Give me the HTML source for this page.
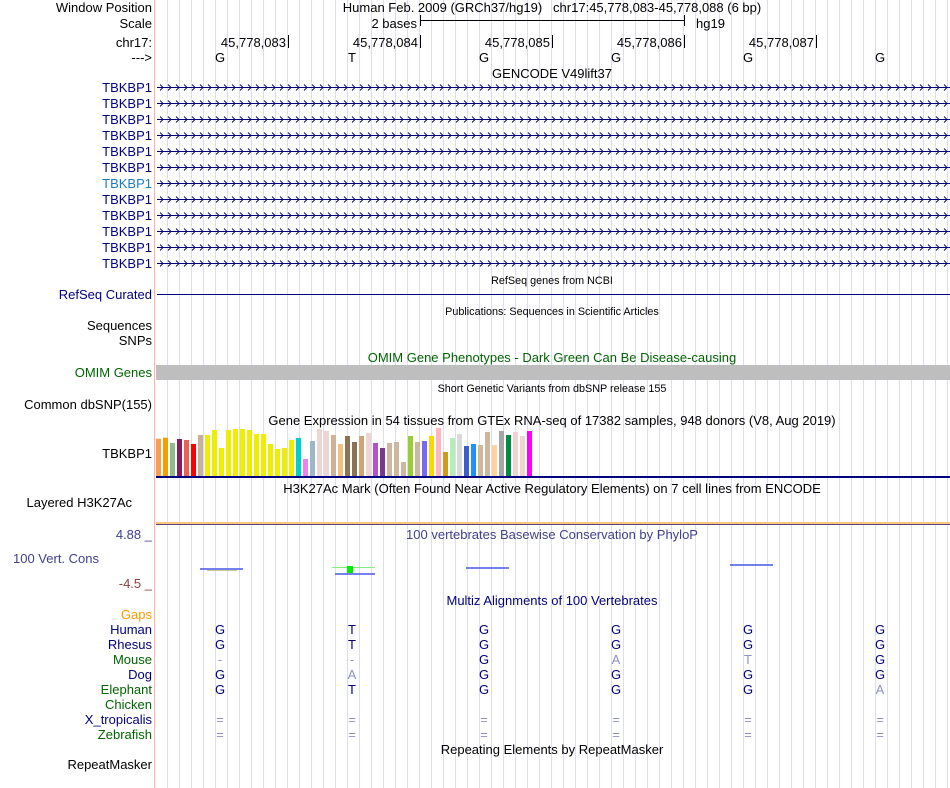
<!DOCTYPE html>
<html><head><meta charset="utf-8"><style>
html,body{margin:0;padding:0;background:#fff;}
svg{display:block;font-family:"Liberation Sans",sans-serif;}
.l{font-size:13px;text-anchor:end;}
.c{font-size:13px;text-anchor:middle;}
.s{font-size:10.8px;text-anchor:middle;}
.nv{fill:#000080;}
.gr{fill:#006400;}
.b{font-size:13px;text-anchor:middle;}
</style></head><body>
<svg width="950" height="788" viewBox="0 0 950 788">
<defs>
<pattern id="grid" patternUnits="userSpaceOnUse" x="155" y="0" width="12" height="788">
<rect x="0" y="0" width="1" height="788" fill="#dcdcf2"/>
</pattern>
</defs>
<rect x="0" y="0" width="950" height="788" fill="#fff"/>
<rect x="156" y="0" width="794" height="788" fill="url(#grid)"/>
<rect x="154" y="0" width="1" height="788" fill="#ffb0b0"/>

<!-- header -->
<text class="l" x="152" y="12">Window Position</text>
<text class="l" x="152" y="28">Scale</text>
<text class="l" x="152" y="47">chr17:</text>
<text class="l" x="152" y="62">---&gt;</text>
<text class="b" x="552" y="12">Human Feb. 2009 (GRCh37/hg19)&#160;&#160;&#160;chr17:45,778,083-45,778,088 (6 bp)</text>
<text class="l" x="417" y="28">2 bases</text>
<rect x="420" y="15" width="1" height="11" fill="#000"/>
<rect x="420" y="20" width="264" height="1" fill="#000"/>
<rect x="684" y="15" width="1" height="11" fill="#000"/>
<text font-size="13" x="696" y="28">hg19</text>
<g font-size="13" text-anchor="end">
<text x="286" y="47">45,778,083</text>
<text x="418" y="47">45,778,084</text>
<text x="550" y="47">45,778,085</text>
<text x="682" y="47">45,778,086</text>
<text x="814" y="47">45,778,087</text>
</g>
<rect x="288" y="35" width="1" height="13" fill="#000"/>
<rect x="420" y="35" width="1" height="13" fill="#000"/>
<rect x="552" y="35" width="1" height="13" fill="#000"/>
<rect x="684" y="35" width="1" height="13" fill="#000"/>
<rect x="816" y="35" width="1" height="13" fill="#000"/>
<g class="c">
<text x="220" y="62">G</text><text x="352" y="62">T</text><text x="484" y="62">G</text>
<text x="616" y="62">G</text><text x="748" y="62">G</text><text x="880" y="62">G</text>
</g>
<text class="c" x="552" y="78">GENCODE V49lift37</text>

<!-- gene rows -->
<g class="l nv">
<text x="152" y="92">TBKBP1</text><text x="152" y="108">TBKBP1</text><text x="152" y="124">TBKBP1</text>
<text x="152" y="140">TBKBP1</text><text x="152" y="156">TBKBP1</text><text x="152" y="172">TBKBP1</text>
<text x="152" y="188" style="fill:#1a7fc0">TBKBP1</text><text x="152" y="204">TBKBP1</text><text x="152" y="220">TBKBP1</text>
<text x="152" y="236">TBKBP1</text><text x="152" y="252">TBKBP1</text><text x="152" y="268">TBKBP1</text>
</g>
<g fill="#000080">
<rect x="157" y="87" width="793" height="1"/><rect x="157" y="103" width="793" height="1"/>
<rect x="157" y="119" width="793" height="1"/><rect x="157" y="135" width="793" height="1"/>
<rect x="157" y="151" width="793" height="1"/><rect x="157" y="167" width="793" height="1"/>
<rect x="157" y="183" width="793" height="1"/><rect x="157" y="199" width="793" height="1"/>
<rect x="157" y="215" width="793" height="1"/><rect x="157" y="231" width="793" height="1"/>
<rect x="157" y="247" width="793" height="1"/><rect x="157" y="263" width="793" height="1"/>
</g>
<svg x="157" y="79.5" width="793" height="192" overflow="hidden">
<defs><pattern id="ar3" patternUnits="userSpaceOnUse" x="1" y="0" width="8" height="16">
<path d="M2,5 L5,8 L2,11" fill="none" stroke="#000080" stroke-width="0.9"/></pattern></defs>
<rect x="0" y="0" width="793" height="192" fill="url(#ar3)"/>
</svg>

<text class="s" x="552" y="284">RefSeq genes from NCBI</text>
<text class="l nv" x="152" y="299">RefSeq Curated</text>
<rect x="157" y="294" width="793" height="1" fill="#000080"/>
<text class="s" x="552" y="315">Publications: Sequences in Scientific Articles</text>
<text class="l" x="152" y="330">Sequences</text>
<text class="l" x="152" y="345">SNPs</text>
<text class="c gr" x="552" y="362">OMIM Gene Phenotypes - Dark Green Can Be Disease-causing</text>
<text class="l gr" x="152" y="377">OMIM Genes</text>
<rect x="156" y="365" width="794" height="15" fill="#bebebe"/>
<text class="s" x="552" y="392">Short Genetic Variants from dbSNP release 155</text>
<text class="l" x="152" y="409">Common dbSNP(155)</text>
<text class="c" x="552" y="425">Gene Expression in 54 tissues from GTEx RNA-seq of 17382 samples, 948 donors (V8, Aug 2019)</text>
<text class="l" x="152" y="458">TBKBP1</text>

<!-- GTEx bars -->
<g>
<rect x="156" y="438.7" width="5" height="37.3" fill="#f9a050"/>
<rect x="163" y="437.7" width="5" height="38.3" fill="#f0a000"/>
<rect x="170" y="443" width="5" height="33" fill="#8fbc8f"/>
<rect x="177" y="439" width="5" height="37" fill="#8b1a5a"/>
<rect x="184" y="440" width="5" height="36" fill="#ee6050"/>
<rect x="191" y="444" width="5" height="32" fill="#ff0000"/>
<rect x="198" y="435" width="5" height="41" fill="#c8b09a"/>
<rect x="205" y="435" width="5" height="41" fill="#eeee00"/>
<rect x="212" y="430" width="5" height="46" fill="#eeee00"/>
<rect x="219" y="448" width="5" height="28" fill="#eeee00"/>
<rect x="226" y="430" width="5" height="46" fill="#eeee00"/>
<rect x="233" y="429" width="5" height="47" fill="#eeee00"/>
<rect x="240" y="429" width="5" height="47" fill="#eeee00"/>
<rect x="247" y="430" width="5" height="46" fill="#eeee00"/>
<rect x="254" y="434" width="5" height="42" fill="#eeee00"/>
<rect x="261" y="434" width="5" height="42" fill="#eeee00"/>
<rect x="268" y="444" width="5" height="32" fill="#eeee00"/>
<rect x="275" y="449" width="5" height="27" fill="#eeee00"/>
<rect x="282" y="448" width="5" height="28" fill="#eeee00"/>
<rect x="289" y="440" width="5" height="36" fill="#eeee00"/>
<rect x="296" y="438" width="5" height="38" fill="#00cdcd"/>
<rect x="303" y="459" width="5" height="17" fill="#ee82ee"/>
<rect x="310" y="441" width="5" height="35" fill="#9ab8c8"/>
<rect x="317" y="429" width="5" height="47" fill="#eed5d2"/>
<rect x="324" y="431" width="5" height="45" fill="#eed5d2"/>
<rect x="331" y="435" width="5" height="41" fill="#cdb39a"/>
<rect x="338" y="444" width="5" height="32" fill="#f0c080"/>
<rect x="345" y="436" width="5" height="40" fill="#8b7355"/>
<rect x="352" y="442" width="5" height="34" fill="#8b7355"/>
<rect x="359" y="436" width="5" height="40" fill="#cda575"/>
<rect x="366" y="433" width="5" height="43" fill="#eed5d2"/>
<rect x="373" y="443" width="5" height="33" fill="#b452cd"/>
<rect x="380" y="448" width="5" height="28" fill="#7a378b"/>
<rect x="387" y="443" width="5" height="33" fill="#cdb79e"/>
<rect x="394" y="442" width="5" height="34" fill="#cdb79e"/>
<rect x="401" y="462" width="5" height="14" fill="#cdb79e"/>
<rect x="408" y="436" width="5" height="40" fill="#9acd32"/>
<rect x="415" y="442" width="5" height="34" fill="#cdb79e"/>
<rect x="422" y="441" width="5" height="35" fill="#7b68ee"/>
<rect x="429" y="436" width="5" height="40" fill="#ffd700"/>
<rect x="436" y="428" width="5" height="48" fill="#ffb6c1"/>
<rect x="443" y="452" width="5" height="24" fill="#cd9b1d"/>
<rect x="450" y="438" width="5" height="38" fill="#b4eeb4"/>
<rect x="457" y="434" width="5" height="42" fill="#d9d9d9"/>
<rect x="464" y="446" width="5" height="30" fill="#3a5fcd"/>
<rect x="471" y="444" width="5" height="32" fill="#1e90ff"/>
<rect x="478" y="445" width="5" height="31" fill="#cdb79e"/>
<rect x="485" y="432" width="5" height="44" fill="#cdb79e"/>
<rect x="492" y="445" width="5" height="31" fill="#ffd39b"/>
<rect x="499" y="431" width="5" height="45" fill="#a6a6a6"/>
<rect x="506" y="435" width="5" height="41" fill="#008b45"/>
<rect x="513" y="432" width="5" height="44" fill="#eed5d2"/>
<rect x="520" y="436" width="5" height="40" fill="#eed5d2"/>
<rect x="527" y="431" width="5" height="45" fill="#ff00ff"/>
</g>
<rect x="156" y="476" width="794" height="2" fill="#000080"/>
<text class="c" x="552" y="493">H3K27Ac Mark (Often Found Near Active Regulatory Elements) on 7 cell lines from ENCODE</text>
<text class="l" x="132" y="507">Layered H3K27Ac</text>
<rect x="156" y="522" width="794" height="2" fill="#f8c878"/>
<rect x="156" y="524" width="794" height="1" fill="#604080"/>

<!-- conservation -->
<text class="l" x="152" y="539" fill="#404090">4.88 _</text>
<text class="c" x="552" y="539" fill="#404090">100 vertebrates Basewise Conservation by PhyloP</text>
<text font-size="13" x="13" y="563" fill="#404090">100 Vert. Cons</text>
<text class="l" x="152" y="588" fill="#904040">-4.5 _</text>
<rect x="200" y="568" width="43" height="2" fill="#5060e8" opacity="0.8"/>
<rect x="207" y="570" width="30" height="1" fill="#c8c890"/>
<rect x="332" y="567" width="43" height="1" fill="#80ee80"/>
<rect x="347" y="566" width="6" height="7" fill="#00ee00"/>
<rect x="335" y="573" width="40" height="2" fill="#5060e8" opacity="0.8"/>
<rect x="466" y="567" width="43" height="2" fill="#5060e8" opacity="0.8"/>
<rect x="730" y="564" width="43" height="2" fill="#5060e8" opacity="0.8"/>

<!-- multiz -->
<text class="c nv" x="552" y="605">Multiz Alignments of 100 Vertebrates</text>
<text class="l" x="152" y="619" fill="#ff9900">Gaps</text>
<g class="l">
<text x="152" y="634" class="nv">Human</text>
<text x="152" y="649" class="nv">Rhesus</text>
<text x="152" y="664" class="gr">Mouse</text>
<text x="152" y="679" class="nv">Dog</text>
<text x="152" y="694" class="gr">Elephant</text>
<text x="152" y="709" class="gr">Chicken</text>
<text x="152" y="724" class="nv">X_tropicalis</text>
<text x="152" y="739" class="gr">Zebrafish</text>
</g>
<g class="c nv">
<text x="220" y="634">G</text><text x="352" y="634">T</text><text x="484" y="634">G</text><text x="616" y="634">G</text><text x="748" y="634">G</text><text x="880" y="634">G</text>
<text x="220" y="649">G</text><text x="352" y="649">T</text><text x="484" y="649">G</text><text x="616" y="649">G</text><text x="748" y="649">G</text><text x="880" y="649">G</text>
<text x="220" y="664" style="fill:#9090c0">-</text><text x="352" y="664" style="fill:#9090c0">-</text><text x="484" y="664">G</text><text x="616" y="664" style="fill:#9090c0">A</text><text x="748" y="664" style="fill:#9090c0">T</text><text x="880" y="664">G</text>
<text x="220" y="679">G</text><text x="352" y="679" style="fill:#9090c0">A</text><text x="484" y="679">G</text><text x="616" y="679">G</text><text x="748" y="679">G</text><text x="880" y="679">G</text>
<text x="220" y="694">G</text><text x="352" y="694">T</text><text x="484" y="694">G</text><text x="616" y="694">G</text><text x="748" y="694">G</text><text x="880" y="694" style="fill:#9090c0">A</text>
</g>
<g class="c" fill="#9090c0">
<text x="220" y="724">=</text><text x="352" y="724">=</text><text x="484" y="724">=</text><text x="616" y="724">=</text><text x="748" y="724">=</text><text x="880" y="724">=</text>
<text x="220" y="739">=</text><text x="352" y="739">=</text><text x="484" y="739">=</text><text x="616" y="739">=</text><text x="748" y="739">=</text><text x="880" y="739">=</text>
</g>
<text class="c" x="552" y="754">Repeating Elements by RepeatMasker</text>
<text class="l" x="152" y="769">RepeatMasker</text>
</svg>
</body></html>
